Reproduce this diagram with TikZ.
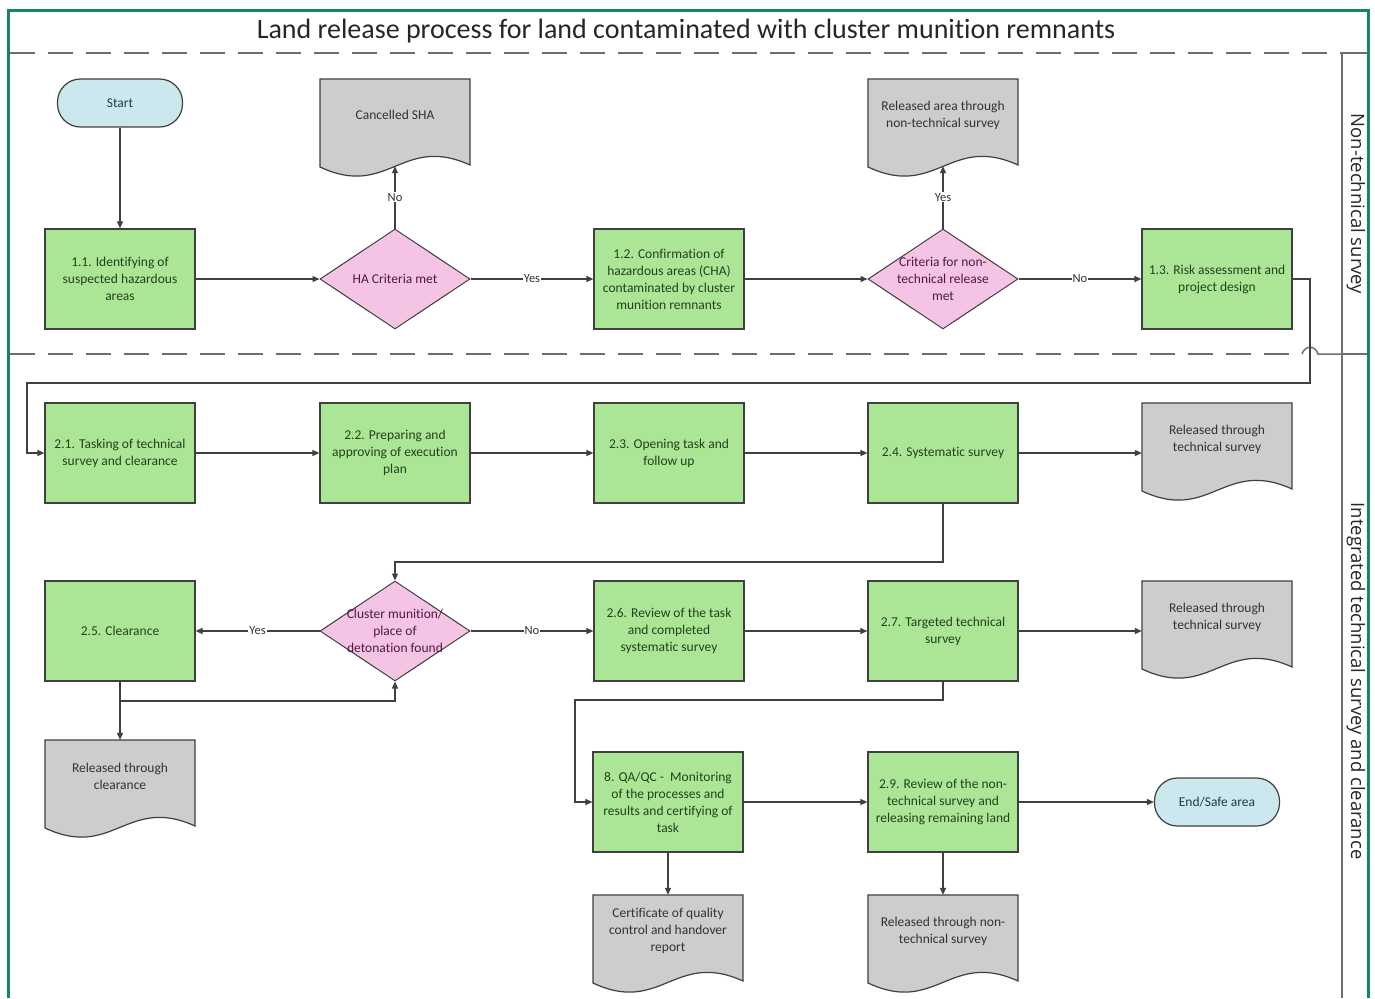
\documentclass[tikz,border=0pt]{standalone}
\usepackage{fontspec}
\setmainfont{Carlito}[Ligatures=NoCommon]
\newfontfamily\lanefont{Open Sans}
\usetikzlibrary{arrows.meta,shapes.geometric,calc}

\definecolor{bordergreen}{RGB}{22,135,90}
\definecolor{boxgreen}{RGB}{170,230,150}
\definecolor{docgray}{RGB}{205,205,205}
\definecolor{diampink}{RGB}{245,196,228}
\definecolor{termblue}{RGB}{202,232,238}
\definecolor{linegray}{RGB}{64,64,64}
\definecolor{dashgray}{RGB}{110,110,110}
\definecolor{greentext}{RGB}{35,65,30}
\definecolor{pinktext}{RGB}{80,25,65}
\definecolor{graytext}{RGB}{50,50,50}
\definecolor{termtext}{RGB}{30,60,70}

\newcommand\docnode[4]{%
  \draw[docshape] ({#2-75},#3) -- ({#2+75},#3) -- ({#2+75},{#3+86})
    .. controls ({#2+7},{#3+55}) and ({#2-7},{#3+120}) .. ({#2-75},{#3+88}) -- cycle;
  \node[docanchor, label={[doctext]center:{#4}}] (#1) at (#2,{#3+43.5}) {};}

\begin{document}
\begin{tikzpicture}[x=1pt,y=-1pt,
  font=\fontsize{13.5}{17}\selectfont,
  procbox/.style={draw=linegray, line width=1.2pt, fill=boxgreen, minimum width=150pt,
    minimum height=100pt, align=center, inner sep=1pt, text=greentext},
  termbox/.style={draw=linegray, line width=1.2pt, fill=termblue, rounded corners=23pt,
    minimum width=125pt, minimum height=48pt, text=termtext},
  diambox/.style={diamond, draw=linegray, line width=1pt, fill=diampink, minimum width=150pt,
    minimum height=100pt, inner sep=0pt},
  diamtext/.style={align=center, text=pinktext, inner sep=0pt},
  docshape/.style={draw=linegray, line width=1.2pt, fill=docgray},
  docanchor/.style={rectangle, draw=none, minimum width=150pt, minimum height=87pt, inner sep=0pt},
  doctext/.style={align=center, text=graytext, yshift=7.5pt, inner sep=0pt},
  conn/.style={draw=linegray, line width=1.2pt, -{Triangle[length=7pt,width=6pt]}},
  elabel/.style={fill=white, text=graytext, inner sep=1pt, font=\fontsize{12.5}{14}\selectfont},
  lanesep/.style={draw=dashgray, line width=1.5pt, dash pattern=on 25pt off 13pt},
  lanesolid/.style={draw=dashgray, line width=1.5pt},
  lanetext/.style={font=\lanefont\fontsize{18.5}{20}\selectfont, text=black!85},
  titletext/.style={font=\fontsize{28}{30}\selectfont, text=black!85}
]
\useasboundingbox (0,0) rectangle (1375,998);
\fill[white] (0,0) rectangle (1375,998);

% frame and lanes
\draw[bordergreen, line width=3pt] (8,998) -- (8,11) -- (1368,11) -- (1368,998);
\draw[lanesep] (10,53) -- (1342,53);
\draw[lanesep] (10,354) -- (1302,354);
\draw[lanesolid] (1302,354) .. controls (1305,345) and (1315,345) .. (1318,354) -- (1342,354);
\draw[lanesolid] (1342,53) -- (1342,998);
\draw[lanesolid] (1342,53) -- (1367,53);
\draw[lanesolid] (1342,354) -- (1367,354);

\node[titletext] (title) at (686,31) {Land release process for land contaminated with cluster munition remnants};
\node[lanetext, rotate=-90] (lane1) at (1356,204) {Non-technical survey};
\node[lanetext, rotate=-90] (lane2) at (1356,681) {Integrated technical survey and clearance};

% row 1
\node[termbox] (start) at (120,103) {Start};
\node[procbox] (n11) at (120,279) {1.1. Identifying of\\suspected hazardous\\areas};
\node[diambox, label={[diamtext]center:{HA Criteria met}}] (dha) at (395,279) {};
\docnode{csha}{395}{79}{Cancelled SHA}
\node[procbox] (n12) at (669,279) {1.2. Confirmation of\\hazardous areas (CHA)\\contaminated by cluster\\munition remnants};
\node[diambox, label={[diamtext]center:{Criteria for non-\\technical release\\met}}] (dnt) at (943,279) {};
\docnode{rant}{943}{79}{Released area through\\non-technical survey}
\node[procbox] (n13) at (1217,279) {1.3. Risk assessment and\\project design};

% row 2
\node[procbox] (n21) at (120,453) {2.1. Tasking of technical\\survey and clearance};
\node[procbox] (n22) at (395,453) {2.2. Preparing and\\approving of execution\\plan};
\node[procbox] (n23) at (669,453) {2.3. Opening task and\\follow up};
\node[procbox] (n24) at (943,453) {2.4. Systematic survey};
\docnode{rts1}{1217}{403}{Released through\\technical survey}

% row 3
\node[procbox] (n25) at (120,631) {2.5. Clearance};
\node[diambox, label={[diamtext]center:{Cluster munition/\\place of\\detonation found}}] (dcm) at (395,631) {};
\node[procbox] (n26) at (669,631) {2.6. Review of the task\\and completed\\systematic survey};
\node[procbox] (n27) at (943,631) {2.7. Targeted technical\\survey};
\docnode{rts2}{1217}{581}{Released through\\technical survey}

% row 4/5
\docnode{rtc}{120}{740}{Released through\\clearance}
\node[procbox] (n8) at (668,802) {8. QA/QC -\ \ Monitoring\\of the processes and\\results and certifying of\\task};
\node[procbox] (n29) at (943,802) {2.9. Review of the non-\\technical survey and\\releasing remaining land};
\node[termbox] (fin) at (1217,802) {End/Safe area};
\docnode{cert}{668}{895}{Certificate of quality\\control and handover\\report};
\docnode{rnts}{943}{895}{Released through non-\\technical survey};

% helper coordinates
\coordinate (c1) at (1310,383);
\coordinate (c2) at (27,383);
\coordinate (c3) at (395,562);
\coordinate (j1) at (120,701);
\coordinate (c4) at (575,700);

% connectors
\draw[conn] (start) -- (n11);
\draw[conn] (n11) -- (dha);
\draw[conn] (dha) -- node[elabel]{No} (csha);
\draw[conn] (dha) -- node[elabel]{Yes} (n12);
\draw[conn] (n12) -- (dnt);
\draw[conn] (dnt) -- node[elabel]{Yes} (rant);
\draw[conn] (dnt) -- node[elabel]{No} (n13);
\draw[conn] (n13.east) -| (c1) -- (c2) |- (n21.west);
\draw[conn] (n21) -- (n22);
\draw[conn] (n22) -- (n23);
\draw[conn] (n23) -- (n24);
\draw[conn] (n24.east) -- (n24.east -| rts1.west);
\draw[conn] (n24.south) |- (c3) -- (dcm.north);
\draw[conn] (dcm) -- node[elabel]{Yes} (n25);
\draw[conn] (dcm) -- node[elabel]{No} (n26);
\draw[conn] (n26) -- (n27);
\draw[conn] (n27.east) -- (n27.east -| rts2.west);
\draw[conn] (n25.south) -- (rtc.north);
\draw[conn] (j1) -| (dcm.south);
\draw[conn] (n27.south) |- (c4) |- (n8.west);
\draw[conn] (n8) -- (n29);
\draw[conn] (n29) -- (fin);
\draw[conn] (n8.south) -- (cert.north);
\draw[conn] (n29.south) -- (rnts.north);
\end{tikzpicture}
\end{document}
